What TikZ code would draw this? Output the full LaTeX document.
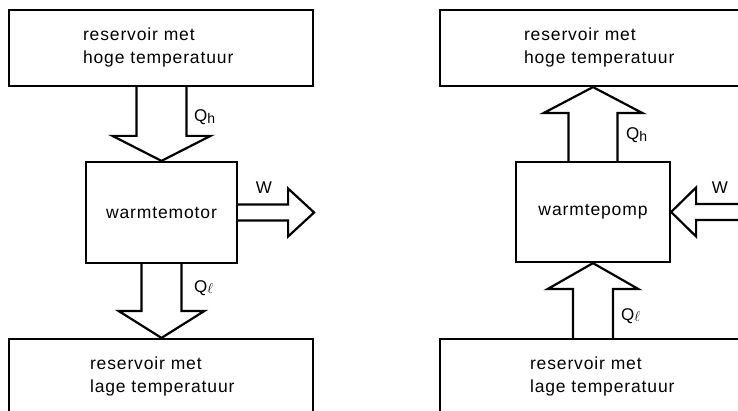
\documentclass[tikz,border=0pt]{standalone}
\usepackage{fontspec}
\setmainfont{Liberation Sans}[LetterSpace=5]
\usetikzlibrary{calc}
\newcommand\blockarrow[5]{%
  \path ($(#2)!#4!(#1)$) coordinate (ab);
  \draw[blk] ($(#1)!#3!90:(#2)$) -- ($(ab)!#3!90:(#2)$) -- ($(ab)!#5!90:(#2)$) -- (#2)
    -- ($(ab)!#5!-90:(#2)$) -- ($(ab)!#3!-90:(#2)$) -- ($(#1)!#3!-90:(#2)$);}
\newcommand\lowsub[1]{\raisebox{-1.5pt}{\fontsize{14}{14}\selectfont #1}}
\begin{document}
\begin{tikzpicture}[x=1pt,y=-1pt,line width=2.2pt,
  box/.style={draw, rectangle, inner sep=0pt},
  txt/.style={font=\fontsize{17.5}{23}\selectfont, align=left, inner sep=0pt},
  lbl/.style={font=\fontsize{17}{18}\selectfont, inner sep=0pt},
  blk/.style={draw, line join=miter, fill=white}]
\useasboundingbox (0,0) rectangle (738,411);
\clip (0,0) rectangle (738,411);
% left: heat engine
\node[box, minimum width=304pt, minimum height=76pt] (hotL) at (161,48) {};
\node[box, txt, minimum width=151pt, minimum height=101pt] (engine) at (161.5,212.5) {warmtemotor};
\node[box, minimum width=304pt, minimum height=76pt] (coldL) at (161,377) {};
\node[txt, anchor=west] (hotLt) at ($(hotL.west)+(74,-1)$) {reservoir met\\hoge temperatuur};
\node[txt, anchor=west] (coldLt) at ($(coldL.west)+(81,-1)$) {reservoir met\\lage temperatuur};
% right: heat pump
\node[box, minimum width=304pt, minimum height=76pt] (hotR) at (592,48) {};
\node[box, txt, minimum width=154pt, minimum height=100pt] (pump) at (593,212) {warmtepomp};
\node[box, minimum width=304pt, minimum height=76pt] (coldR) at (592,377) {};
\node[txt, anchor=west] (hotRt) at ($(hotR.west)+(84,-1)$) {reservoir met\\hoge temperatuur};
\node[txt, anchor=west] (coldRt) at ($(coldR.west)+(90,-1)$) {reservoir met\\lage temperatuur};
% block arrows
\coordinate (wLtip) at ($(engine.east)+(76,0)$);
\coordinate (wRstart) at ($(pump.east)+(90,0)$);
\blockarrow{hotL.south -| engine.north}{engine.north}{25pt}{25pt}{49pt}
\blockarrow{engine.south}{coldL.north -| engine.south}{20pt}{27pt}{43pt}
\blockarrow{engine.east}{wLtip}{8pt}{26pt}{24pt}
\blockarrow{pump.north}{hotR.south -| pump.north}{24.5pt}{26pt}{49.5pt}
\blockarrow{coldR.north -| pump.south}{pump.south}{20pt}{26pt}{45.5pt}
\blockarrow{wRstart}{pump.east}{8pt}{25pt}{24.5pt}
% labels
\node[lbl, anchor=base west] (qhL) at (193,122) {Q\lowsub{h}};
\node[lbl, anchor=base west] (qlL) at (193,292) {Q\lowsub{$\ell$}};
\node[lbl] (wL) at (264,188) {W};
\node[lbl, anchor=base west] (qhR) at (625,140) {Q\lowsub{h}};
\node[lbl, anchor=base west] (qlR) at (620,320) {Q\lowsub{$\ell$}};
\node[lbl] (wR) at (720,188) {W};
\end{tikzpicture}
\end{document}
